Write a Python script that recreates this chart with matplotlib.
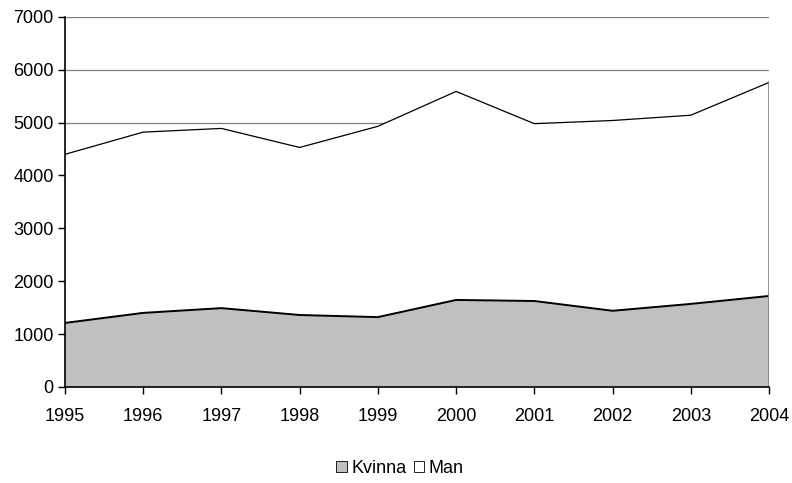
import matplotlib.pyplot as plt
from matplotlib.patches import Patch

years = [1995, 1996, 1997, 1998, 1999, 2000, 2001, 2002, 2003, 2004]
kvinna = [1210, 1400, 1490, 1360, 1320, 1645, 1625, 1440, 1570, 1720]
man = [3190, 3420, 3400, 3170, 3610, 3945, 3355, 3600, 3570, 4040]

plt.rcParams['font.family'] = ['Liberation Sans', 'DejaVu Sans']

fig = plt.figure(figsize=(7.92, 4.83), dpi=100)
ax = fig.add_axes([0.082, 0.199, 0.889, 0.766])

total = [k + m for k, m in zip(kvinna, man)]

# Stacked areas, grid sits behind the white fill
ax.fill_between(years, 0, kvinna, facecolor='#c0c0c0', edgecolor='none', zorder=2)
ax.fill_between(years, kvinna, total, facecolor='white', edgecolor='none', zorder=2)
ax.plot(years, kvinna, color='black', lw=1.4, zorder=3)
ax.plot(years, total, color='black', lw=0.9, zorder=3)
ax.plot([years[-1], years[-1]], [0, total[-1]], color='#808080', lw=1.2, zorder=3)

ax.set_xlim(years[0], years[-1])
ax.set_ylim(0, 7000)
ax.set_xticks(years)
ax.set_yticks(range(0, 7001, 1000))
ax.yaxis.grid(True, color='#808080', lw=0.9, zorder=1)
ax.set_axisbelow(True)

for s in ['top', 'right']:
    ax.spines[s].set_visible(False)
for s in ['left', 'bottom']:
    ax.spines[s].set_color('black')
    ax.spines[s].set_linewidth(1.2)
    ax.spines[s].set_zorder(4)

ax.tick_params(axis='both', direction='out', length=5, width=1, labelsize=13, colors='black')
ax.tick_params(axis='x', pad=10)
ax.tick_params(axis='y', pad=3)

handles = [Patch(facecolor='#c0c0c0', edgecolor='black', lw=0.6, label='Kvinna'),
           Patch(facecolor='white', edgecolor='black', lw=0.6, label='Man')]
fig.legend(handles=handles, loc='center', bbox_to_anchor=(0.505, 0.03), ncol=2,
           frameon=False, fontsize=13, handlelength=0.6, handleheight=0.6,
           handletextpad=0.25, columnspacing=0.4)

plt.savefig('out.png', dpi=100)
plt.close()
